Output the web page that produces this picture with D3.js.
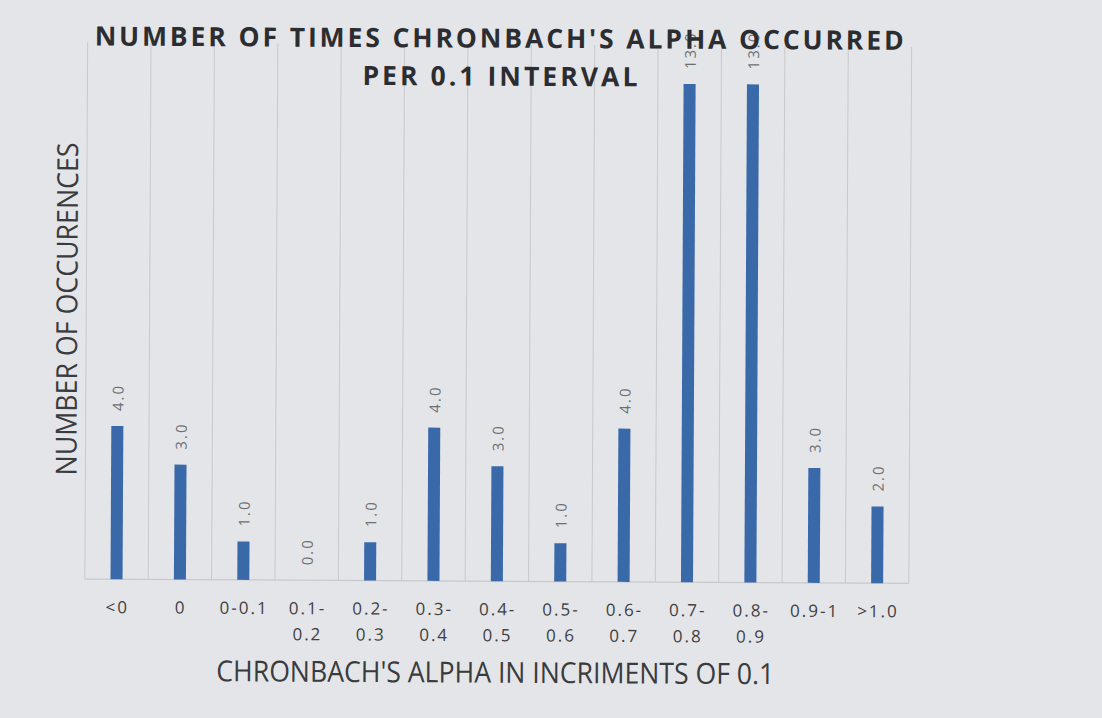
<!DOCTYPE html>
<html>
<head>
<meta charset="utf-8">
<script src="https://cdn.jsdelivr.net/npm/d3@7"></script>
<style>
  html, body { margin: 0; padding: 0; background: #e4e5e8; }
  svg { display: block; }
</style>
</head>
<body>
<div id="chart"></div>
<script>
// Data
const categories = ['<0', '0', '0-0.1', '0.1-0.2', '0.2-0.3', '0.3-0.4', '0.4-0.5', '0.5-0.6', '0.6-0.7', '0.7-0.8', '0.8-0.9', '0.9-1', '>1.0'];
const tickLines = [['<0'], ['0'], ['0-0.1'], ['0.1-', '0.2'], ['0.2-', '0.3'], ['0.3-', '0.4'], ['0.4-', '0.5'], ['0.5-', '0.6'], ['0.6-', '0.7'], ['0.7-', '0.8'], ['0.8-', '0.9'], ['0.9-1'], ['>1.0']];
const occurrences = [4, 3, 1, 0, 1, 4, 3, 1, 4, 13, 13, 3, 2];
const titleLines = ["NUMBER OF TIMES CHRONBACH'S ALPHA OCCURRED", 'PER 0.1 INTERVAL'];
const xTitle = "CHRONBACH'S ALPHA IN INCRIMENTS OF 0.1";
const yTitle = 'NUMBER OF OCCURENCES';

const W = 1102, H = 718;
const margin = { top: 45, right: 192, bottom: 136.5, left: 86 };
const innerW = W - margin.left - margin.right;
const innerH = H - margin.top - margin.bottom;

const svg = d3.select('#chart')
    .append('svg')
    .attr('width', W)
    .attr('height', H);

svg.append('rect')
    .attr('width', W)
    .attr('height', H)
    .attr('fill', '#e4e5e8');

// the scan is slightly tilted
const root = svg.append('g')
    .attr('transform', `rotate(0.3, ${W / 2}, ${H / 2})`);

const g = root.append('g')
    .attr('transform', `translate(${margin.left},${margin.top})`);

const x = d3.scaleBand()
    .domain(categories)
    .range([0, innerW]);

const y = d3.scaleLinear()
    .domain([0, 14])
    .range([innerH, 0]);

// vertical gridlines at band edges
const edges = categories.map(c => x(c)).concat([innerW]);
g.selectAll('line.grid')
    .data(edges)
    .enter()
    .append('line')
    .attr('class', 'grid')
    .attr('x1', d => d)
    .attr('x2', d => d)
    .attr('y1', 0)
    .attr('y2', innerH)
    .attr('stroke', '#c8c9cc')
    .attr('stroke-width', 1);

// baseline
g.append('line')
    .attr('x1', 0)
    .attr('x2', innerW)
    .attr('y1', y(0))
    .attr('y2', y(0))
    .attr('stroke', '#c8c9cc')
    .attr('stroke-width', 1.2);

// Bars
const barW = x.bandwidth() * 0.19;
g.selectAll('rect.bar')
    .data(categories)
    .enter()
    .append('rect')
    .attr('class', 'bar')
    .attr('x', (d, i) => x(d) + x.bandwidth() / 2 - barW / 2)
    .attr('y', (d, i) => y(occurrences[i]))
    .attr('width', barW)
    .attr('height', (d, i) => y(0) - y(occurrences[i]))
    .attr('fill', '#3a69aa');

// Value labels (rotated)
g.selectAll('text.val')
    .data(categories)
    .enter()
    .append('text')
    .attr('class', 'val')
    .attr('transform', (d, i) => {
        const cx = x(d) + x.bandwidth() / 2;
        const cy = y(occurrences[i]) - 15;
        return `translate(${cx},${cy}) rotate(-90)`;
    })
    .attr('dominant-baseline', 'central')
    .style('font-family', '"Open Sans", sans-serif')
    .style('font-size', '15px')
    .style('letter-spacing', '2px')
    .style('fill', '#6e6f72')
    .text((d, i) => occurrences[i].toFixed(1));

// X tick labels
const ticks = g.selectAll('text.tick')
    .data(categories)
    .enter()
    .append('text')
    .attr('class', 'tick')
    .attr('x', d => x(d) + x.bandwidth() / 2 + 1)
    .attr('y', y(0) + 34)
    .attr('text-anchor', 'middle')
    .style('font-family', '"Open Sans", sans-serif')
    .style('font-size', '17px')
    .style('letter-spacing', '2px')
    .style('fill', '#3e3f42');

ticks.each(function(d, i) {
    const t = d3.select(this);
    tickLines[i].forEach((line, j) => {
        t.append('tspan')
            .attr('x', x(d) + x.bandwidth() / 2 + 1)
            .attr('dy', j === 0 ? 0 : 26)
            .text(line);
    });
});

// Axis titles
root.append('text')
    .attr('x', 218)
    .attr('y', 683)
    .attr('textLength', 558)
    .attr('lengthAdjust', 'spacingAndGlyphs')
    .style('font-family', '"Open Sans", sans-serif')
    .style('font-size', '29px')
    .style('fill', '#3a3b3e')
    .text(xTitle);

root.append('text')
    .attr('transform', 'translate(77,478) rotate(-90)')
    .attr('textLength', 333)
    .attr('lengthAdjust', 'spacingAndGlyphs')
    .style('font-family', '"Open Sans", sans-serif')
    .style('font-size', '29px')
    .style('fill', '#3a3b3e')
    .text(yTitle);

// Chart title (drawn over the tall bar labels, as in the original)
const titleY = [48, 86];
const titleX = [[93, 809], [361, 275]];
titleLines.forEach((line, i) => {
    root.append('text')
        .attr('x', titleX[i][0])
        .attr('y', titleY[i])
        .attr('textLength', titleX[i][1])
        .attr('lengthAdjust', 'spacing')
        .style('font-family', '"Open Sans", sans-serif')
        .style('font-weight', '700')
        .style('font-size', '26.5px')
        .style('fill', '#2c2d30')
        .text(line);
});
</script>
</body>
</html>
